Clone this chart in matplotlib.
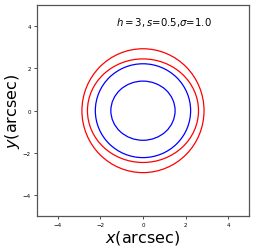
import numpy as np
import matplotlib
matplotlib.use("Agg")
import matplotlib.pyplot as plt
from matplotlib.patches import Ellipse

# curves: semi-axes along x and y (arcsec)
red_ax = [2.87, 2.61]
red_ay = [2.93, 2.45]
blue_ax = [2.24, 1.51]
blue_ay = [2.22, 1.40]
ticks = [-4, -2, 0, 2, 4]
label = r'$h=3,s$=0.5,$\sigma$=1.0'

fig = plt.figure(figsize=(2.56, 2.51), dpi=100)
ax = fig.add_axes([0.143, 0.134, 0.831, 0.842])

for a, b in zip(red_ax, red_ay):
    ax.add_patch(Ellipse((0, 0), 2*a, 2*b, fill=False, color='red', lw=0.9))
for a, b in zip(blue_ax, blue_ay):
    ax.add_patch(Ellipse((0, 0), 2*a, 2*b, fill=False, color='blue', lw=0.9))

ax.text(1.0, 4.2, label, ha='center', va='center', fontsize=7.3)

ax.set_xlim(-5, 5)
ax.set_ylim(-5, 5)
ax.set_xticks(ticks)
ax.set_yticks(ticks)
ax.tick_params(labelsize=4, length=2, width=0.5, pad=2)
for s in ax.spines.values():
    s.set_linewidth(0.9)
    s.set_color('#555555')
ax.set_xlabel(r'$x$(arcsec)', fontsize=11.5, labelpad=1)
ax.set_ylabel(r'$y$(arcsec)', fontsize=11.5, labelpad=1)

fig.savefig('out.png', dpi=100)
